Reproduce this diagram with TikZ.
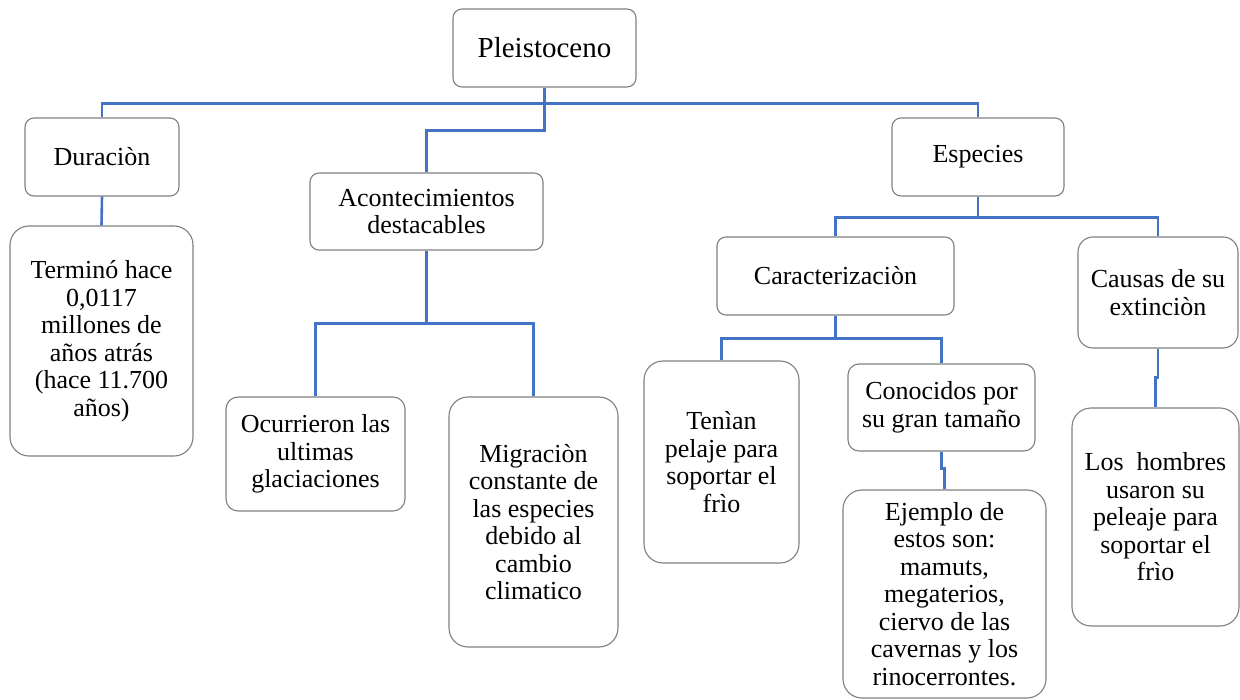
\documentclass[tikz,border=0pt]{standalone}
\usepackage{fontspec}
\setmainfont{Liberation Serif}
\usepackage{tikz}
\usetikzlibrary{positioning}
\definecolor{linkblue}{HTML}{4472C4}
\definecolor{boxgray}{HTML}{7F7F7F}
\tikzstyle{link} = [linkblue,line width=2.6pt]

\begin{document}
\begin{tikzpicture}[x=1pt,y=-1pt,box node/.style={rectangle, draw=boxgray, line width=1.1pt, rounded corners=9pt, align=center, inner sep=2pt, font=\fontsize{26}{27.5}\selectfont}, big node/.style={box node, rounded corners=19pt}]
            \useasboundingbox (0,0) rectangle (1240,700);
            \node[box node, minimum width=183pt, minimum height=78pt, font=\fontsize{29}{32}\selectfont] (pleis) at (544.5,48) {Pleistoceno};
            \node[box node, minimum width=154pt, minimum height=78pt] (dur) at (102,157) {Duraciòn};
            \node[big node, minimum width=183pt, minimum height=230pt] (term) at (101.5,341) {Terminó hace\\0,0117\\millones de\\años atrás\\(hace 11.700\\años)};
            \node[box node, minimum width=233pt, minimum height=77pt] (acon) at (426.5,211.5) {Acontecimientos\\destacables};
            \node[box node, rounded corners=12pt, minimum width=179pt, minimum height=114pt] (ocu) at (315.5,454) {Ocurrieron las\\ultimas\\glaciaciones};
            \node[big node, minimum width=169pt, minimum height=250pt] (mig) at (533.5,522) {Migraciòn\\constante de\\las especies\\debido al\\cambio\\climatico};
            \node[box node, minimum width=172pt, minimum height=78pt] (espe) at (978,157) {Especies};
            \node[box node, minimum width=237pt, minimum height=78pt] (carac) at (835.5,276) {Caracterizaciòn};
            \node[box node, rounded corners=15pt, minimum width=160pt, minimum height=111pt] (causas) at (1158,292.5) {Causas de su\\extinciòn};
            \node[big node, minimum width=155pt, minimum height=202pt] (tenian) at (721.5,462) {Tenìan\\pelaje para\\soportar el\\frìo};
            \node[box node, rounded corners=11pt, minimum width=187pt, minimum height=87pt] (cono) at (941.5,407.5) {Conocidos por\\su gran tamaño};
            \node[big node, minimum width=203pt, minimum height=208pt] (ejem) at (944.5,594) {Ejemplo de\\estos son:\\mamuts,\\megaterios,\\ciervo de las\\cavernas y los\\rinocerrontes.};
            \node[big node, minimum width=167pt, minimum height=218pt] (homb) at (1155.5,517) {Los\ \ hombres\\usaron su\\peleaje para\\soportar el\\frìo};
            \draw[link] (pleis.south) -- ++(0,16) -| (dur.north);
            \draw[link] (pleis.south) -- ++(0,16) -| (espe.north);
            \draw[link] (pleis.south) -- ++(0,43) -| (acon.north);
            \draw[link] (dur.south) -- (term.north);
            \draw[link] (acon.south) -- ++(0,73) -| (ocu.north);
            \draw[link] (acon.south) -- ++(0,73) -| (mig.north);
            \draw[link] (espe.south) -- ++(0,21) -| (carac.north);
            \draw[link] (espe.south) -- ++(0,21) -| (causas.north);
            \draw[link] (carac.south) -- ++(0,23) -| (tenian.north);
            \draw[link] (carac.south) -- ++(0,23) -| (cono.north);
            \draw[link] (cono.south) -- ++(0,17) -| (ejem.north);
            \draw[link] (causas.south) -- ++(0,29) -| (homb.north);
        \end{tikzpicture}
\end{document}
